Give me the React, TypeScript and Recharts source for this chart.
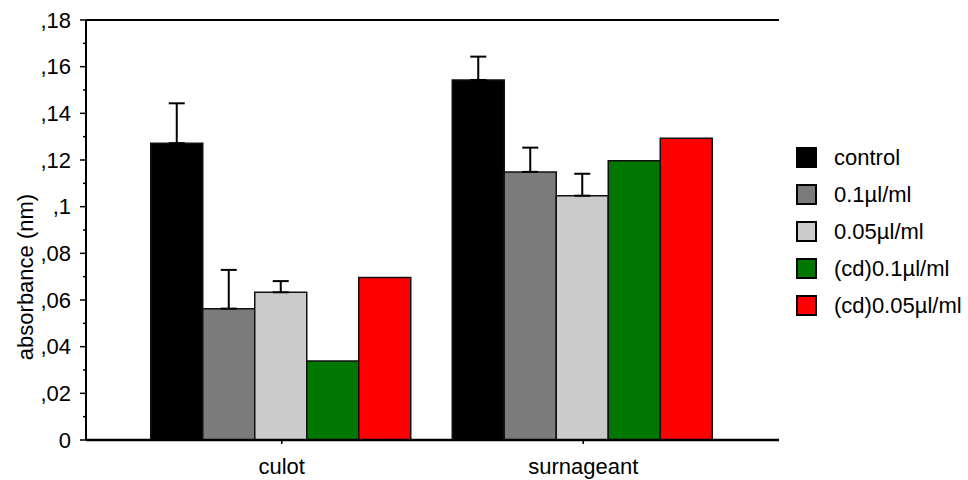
import React from 'react';
import { BarChart, Bar, XAxis, YAxis, ErrorBar, ReferenceLine } from 'recharts';

const categories = ['culot', 'surnageant'];
const control = [0.1272, 0.1543];
const dose01 = [0.0563, 0.1149];
const dose005 = [0.0633, 0.1047];
const cd01 = [0.0339, 0.1197];
const cd005 = [0.0696, 0.1293];
// one-sided (upper) errors
const controlErr = [0.0171, 0.01];
const dose01Err = [0.0166, 0.0104];
const dose005Err = [0.0048, 0.0094];

const yTicks = [0, 0.01, 0.02, 0.03, 0.04, 0.05, 0.06, 0.07, 0.08, 0.09, 0.1, 0.11, 0.12, 0.13, 0.14, 0.15, 0.16, 0.17, 0.18];
const yTickLabels = ['0', ',02', ',04', ',06', ',08', ',1', ',12', ',14', ',16', ',18'];

const series = [
  { key: 'control', name: 'control', color: '#000000', err: 'controlErr' },
  { key: 'dose01', name: '0.1µl/ml', color: '#7b7b7b', err: 'dose01Err' },
  { key: 'dose005', name: '0.05µl/ml', color: '#cbcbcb', err: 'dose005Err' },
  { key: 'cd01', name: '(cd)0.1µl/ml', color: '#007700', err: null },
  { key: 'cd005', name: '(cd)0.05µl/ml', color: '#ff0000', err: null },
];

const data = categories.map((name, i) => ({
  name,
  control: control[i],
  dose01: dose01[i],
  dose005: dose005[i],
  cd01: cd01[i],
  cd005: cd005[i],
  controlErr: [0, controlErr[i]],
  dose01Err: [0, dose01Err[i]],
  dose005Err: [0, dose005Err[i]],
}));

const FONT = '"Liberation Sans", Arial, sans-serif';
const FS = 22;

const YTick = (props: any) => {
  const { x, y, index } = props;
  const major = index % 2 === 0;
  return (
    <g>
      <line x1={x - (major ? 6 : 3)} x2={x} y1={y} y2={y} stroke="#000" strokeWidth={1.5} />
      {major && (
        <text x={x - 15} y={y} dy="0.355em" textAnchor="end" fontSize={FS} fontFamily={FONT} fill="#000">
          {yTickLabels[index / 2]}
        </text>
      )}
    </g>
  );
};

const App = () => {
  return (
    <div style={{ position: 'absolute', left: 0, top: 0, width: 968, height: 480, background: '#fff', fontFamily: FONT }}>
      <BarChart
        width={968}
        height={480}
        data={data}
        margin={{ top: 20, right: 189, bottom: 0, left: 0 }}
        barGap={0}
        barCategoryGap={19.75}
      >
        <XAxis
          dataKey="name"
          height={40}
          padding={{ left: 45, right: 45 }}
          tickSize={4}
          tickMargin={14}
          tick={{ fill: '#000', fontSize: FS, fontFamily: FONT }}
          tickLine={{ stroke: '#000', strokeWidth: 1.5 }}
          axisLine={{ stroke: '#000', strokeWidth: 2.5 }}
        />
        <YAxis
          yAxisId="left"
          width={86}
          domain={[0, 0.18]}
          ticks={yTicks}
          interval={0}
          tickSize={0}
          tickMargin={0}
          tickLine={false}
          tick={<YTick />}
          axisLine={{ stroke: '#000', strokeWidth: 2 }}
          allowDataOverflow
          label={{
            content: () => (
              <text
                x={25}
                y={277}
                transform="rotate(-90 25 277)"
                textAnchor="middle"
                dominantBaseline="central"
                fontSize={FS}
                fontFamily={FONT}
                fill="#000"
              >
                absorbance (nm)
              </text>
            ),
          }}
        />
        <YAxis
          yAxisId="right"
          orientation="right"
          width={0}
          domain={[0, 0.18]}
          tick={false}
          tickLine={false}
          axisLine={{ stroke: '#000', strokeWidth: 2 }}
        />
        <ReferenceLine yAxisId="left" y={0.18} stroke="#000" strokeWidth={2} />
        {series.map((s) => (
          <Bar
            key={s.key}
            yAxisId="left"
            dataKey={s.key}
            name={s.name}
            fill={s.color}
            stroke="#111"
            strokeWidth={1.5}
            isAnimationActive={false}
          >
            {s.err && <ErrorBar dataKey={s.err} width={8} stroke="#000" strokeWidth={2} direction="y" />}
          </Bar>
        ))}
      </BarChart>
      <div style={{ position: 'absolute', left: 796, top: 139 }}>
        {series.map((s) => (
          <div key={s.key} style={{ display: 'flex', alignItems: 'center', height: 37 }}>
            <div
              style={{
                width: 17,
                height: 17,
                background: s.color,
                border: '2px solid #000',
              }}
            />
            <span style={{ marginLeft: 17, fontSize: FS, color: '#000' }}>{s.name}</span>
          </div>
        ))}
      </div>
    </div>
  );
};

export default App;
